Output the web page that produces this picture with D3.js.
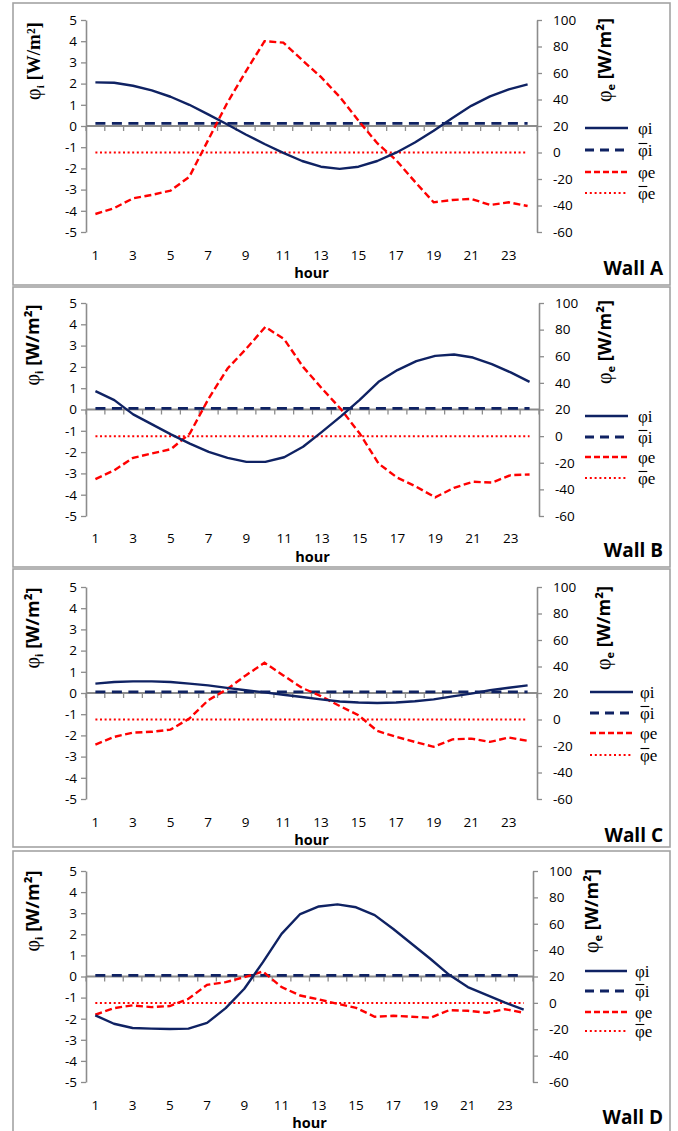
<!DOCTYPE html>
<html>
<head>
<meta charset="utf-8">
<script src="https://cdn.jsdelivr.net/npm/d3@7"></script>
<style>
  html, body { margin: 0; padding: 0; background: #fff; }
  svg { display: block; }
  .tick text { font-family: "Open Sans", sans-serif; font-size: 13.5px; fill: #000; }
</style>
</head>
<body>
<svg id="chart" width="678" height="1131"></svg>
<script>
// Hourly heat flux through four walls: inner surface flux (left axis) and outer surface flux (right axis)
const hours = [1, 2, 3, 4, 5, 6, 7, 8, 9, 10, 11, 12, 13, 14, 15, 16, 17, 18, 19, 20, 21, 22, 23, 24];
const hourLabels = [1, 3, 5, 7, 9, 11, 13, 15, 17, 19, 21, 23];
const leftTicks = [-5, -4, -3, -2, -1, 0, 1, 2, 3, 4, 5];
const rightTicks = [-60, -40, -20, 0, 20, 40, 60, 80, 100];
const wallNames = ["Wall A", "Wall B", "Wall C", "Wall D"];

// φi, W/m² (left axis)
const wallA_phiI = [2.06, 2.04, 1.9, 1.68, 1.38, 1.0, 0.55, 0.08, -0.4, -0.85, -1.27, -1.65, -1.92, -2.02, -1.92, -1.65, -1.26, -0.78, -0.22, 0.38, 0.95, 1.4, 1.73, 1.96];
const wallB_phiI = [0.86, 0.44, -0.23, -0.7, -1.17, -1.6, -1.99, -2.27, -2.46, -2.46, -2.24, -1.75, -1.05, -0.32, 0.45, 1.3, 1.85, 2.27, 2.52, 2.58, 2.44, 2.13, 1.74, 1.3];
const wallC_phiI = [0.44, 0.52, 0.55, 0.55, 0.52, 0.44, 0.36, 0.24, 0.13, 0.03, -0.08, -0.19, -0.3, -0.4, -0.45, -0.47, -0.45, -0.39, -0.3, -0.16, -0.03, 0.13, 0.25, 0.36];
const wallD_phiI = [-1.84, -2.24, -2.44, -2.47, -2.49, -2.47, -2.2, -1.5, -0.58, 0.68, 2.02, 2.96, 3.32, 3.42, 3.28, 2.91, 2.25, 1.54, 0.83, 0.08, -0.5, -0.87, -1.24, -1.57];

// φe, W/m² (right axis)
const wallA_phiE = [-46.4, -42, -34.6, -32, -28.8, -18.3, 9.4, 37, 61, 84, 82.9, 69.8, 57, 42, 24, 7, -5.7, -22, -37.6, -35.8, -35, -39.6, -37.6, -40.4];
const wallB_phiE = [-32.3, -25.6, -16.3, -13, -9.8, 2, 28.3, 50.8, 65.8, 82, 72.8, 52, 35.8, 20.3, 2, -20.6, -31.3, -38, -46, -38.8, -34.3, -34.9, -29.3, -28.8];
const wallC_phiE = [-18.9, -13.1, -9.9, -9.3, -7.6, 0.7, 14.5, 22.8, 33.3, 42.8, 33.3, 23.8, 17.7, 10.2, 3.2, -8.6, -13.1, -16.9, -20.6, -15, -14.4, -16.9, -13.6, -16.1];
const wallD_phiE = [-9, -4, -1.9, -3.2, -2.4, 3.1, 13.7, 15.7, 19.5, 23.8, 12, 5.6, 2.6, -0.7, -3.8, -10.5, -9.8, -10.5, -11.3, -5.5, -6, -7.5, -4.8, -7.5];

// daily means
const meanPhiI = [0.12, 0.05, 0.05, 0.05];
const meanPhiE = [0, 0, 0, 0];

const phiISeries = [wallA_phiI, wallB_phiI, wallC_phiI, wallD_phiI];
const phiESeries = [wallA_phiE, wallB_phiE, wallC_phiE, wallD_phiE];

// frame geometry of each stacked panel
const layout = [
  { box: [13, 3, 670, 285], x0: 86, x1: 537, yTop: 20, yBot: 232, tickY: 255, hourY: 273, wallY: 275,
    leftLab: [33, 61], rightLab: [605, 60], serifTitle: true, leg: { a: 585, b: 628, t: 638, rows: [128, 150, 172, 193] } },
  { box: [13, 287, 670, 567], x0: 86, x1: 539, yTop: 303, yBot: 516, tickY: 538, hourY: 557, wallY: 557,
    leftLab: [33, 345], rightLab: [605, 342], serifTitle: false, leg: { a: 585, b: 628, t: 638, rows: [416, 437, 457, 478] } },
  { box: [13, 569, 670, 847], x0: 86, x1: 537, yTop: 587, yBot: 799, tickY: 822, hourY: 840, wallY: 842,
    leftLab: [33, 628], rightLab: [604, 628], serifTitle: false, leg: { a: 590, b: 633, t: 640, rows: [692, 713, 733, 755] } },
  { box: [13, 851, 670, 1140], x0: 86, x1: 533, yTop: 871, yBot: 1082, tickY: 1105, hourY: 1123, wallY: 1124,
    leftLab: [33, 911], rightLab: [592, 911], serifTitle: false, leg: { a: 585, b: 627, t: 635, rows: [971, 991, 1012, 1031] } }
];

const NAVY = "#0f2263";
const RED = "#ff0000";
const GRID = "#8c8c8c";

const svg = d3.select("#chart");

layout.forEach((L, k) => {
  const g = svg.append("g");
  const [bx0, by0, bx1, by1] = L.box;
  g.append("rect")
    .attr("x", bx0).attr("y", by0).attr("width", bx1 - bx0).attr("height", by1 - by0)
    .attr("fill", "#fff").attr("stroke", "#a3a3a3").attr("stroke-width", 1.6);

  const x = d3.scaleBand().domain(hours).range([L.x0, L.x1]);
  const cx = h => x(h) + x.bandwidth() / 2;
  const yL = d3.scaleLinear().domain([-5, 5]).range([L.yBot, L.yTop]);
  const yR = d3.scaleLinear().domain([-60, 100]).range([L.yBot, L.yTop]);

  // left axis
  const axL = g.append("g").attr("transform", `translate(${L.x0},0)`)
    .call(d3.axisLeft(yL).tickValues(leftTicks).tickSizeInner(5).tickSizeOuter(0).tickPadding(4).tickFormat(d => String(d)));
  // right axis
  const axR = g.append("g").attr("transform", `translate(${L.x1},0)`)
    .call(d3.axisRight(yR).tickValues(rightTicks).tickSizeInner(5).tickSizeOuter(0).tickPadding(11).tickFormat(d => String(d)));
  [axL, axR].forEach(a => {
    a.select(".domain").attr("stroke", GRID).attr("stroke-width", 1.6);
    a.selectAll(".tick line").attr("stroke", GRID).attr("stroke-width", 1.3);
  });

  // horizontal axis along zero with category boundary ticks
  const y0 = yL(0);
  g.append("line").attr("x1", L.x0).attr("x2", L.x1).attr("y1", y0).attr("y2", y0)
    .attr("stroke", GRID).attr("stroke-width", 1.8);
  const bounds = hours.map(h => x(h)).concat([L.x1]);
  g.selectAll(".xt").data(bounds).enter().append("line")
    .attr("x1", d => d).attr("x2", d => d).attr("y1", y0).attr("y2", y0 + 5)
    .attr("stroke", GRID).attr("stroke-width", 1.3);
  g.selectAll(".xl").data(hourLabels).enter().append("text")
    .attr("x", d => cx(d)).attr("y", L.tickY).attr("dy", "0.35em")
    .attr("text-anchor", "middle")
    .style("font-family", "'Open Sans', sans-serif").style("font-size", "13.5px")
    .text(d => d);
  g.append("text").attr("x", (L.x0 + L.x1) / 2).attr("y", L.hourY).attr("dy", "0.35em")
    .attr("text-anchor", "middle")
    .style("font-family", "'Open Sans', sans-serif").style("font-size", "14.5px").style("font-weight", "bold")
    .text("hour");

  // axis titles
  const titleFont = L.serifTitle ? "'Liberation Serif', serif" : "'Open Sans', sans-serif";
  const tL = g.append("text")
    .attr("transform", `translate(${L.leftLab[0]},${L.leftLab[1]}) rotate(-90)`)
    .attr("text-anchor", "middle").attr("dy", "0.35em")
    .style("font-family", titleFont).style("font-size", L.serifTitle ? "19px" : "18px").style("font-weight", "bold");
  tL.append("tspan").style("font-family", "'Liberation Serif', serif").style("font-weight", "normal").style("font-size", "20px").text("φ");
  tL.append("tspan").attr("dy", 4).style("font-size", "11px").text("i");
  tL.append("tspan").attr("dy", -4).text(" [W/m²]");

  const tR = g.append("text")
    .attr("transform", `translate(${L.rightLab[0]},${L.rightLab[1]}) rotate(-90)`)
    .attr("text-anchor", "middle").attr("dy", "0.35em")
    .style("font-family", "'Open Sans', sans-serif").style("font-size", "18px").style("font-weight", "bold");
  tR.append("tspan").style("font-family", "'Liberation Serif', serif").style("font-weight", "normal").style("font-size", "20px").text("φ");
  tR.append("tspan").attr("dy", 4).style("font-size", "11px").text("e");
  tR.append("tspan").attr("dy", -4).text(" [W/m²]");

  // series
  const lineL = d3.line().x((d, i) => cx(hours[i])).y(d => yL(d));
  const lineR = d3.line().x((d, i) => cx(hours[i])).y(d => yR(d));

  const meanI = hours.map(() => meanPhiI[k]);
  const meanE = hours.map(() => meanPhiE[k]);

  g.append("path").datum(meanE).attr("d", lineR)
    .attr("fill", "none").attr("stroke", RED).attr("stroke-width", 2).attr("stroke-dasharray", "2,2.6");
  g.append("path").datum(meanI).attr("d", lineL)
    .attr("fill", "none").attr("stroke", NAVY).attr("stroke-width", 2.8).attr("stroke-dasharray", "10,6.5");
  g.append("path").datum(phiESeries[k]).attr("d", lineR)
    .attr("fill", "none").attr("stroke", RED).attr("stroke-width", 2.4).attr("stroke-dasharray", "7,3.5");
  g.append("path").datum(phiISeries[k]).attr("d", lineL)
    .attr("fill", "none").attr("stroke", NAVY).attr("stroke-width", 2.4).attr("stroke-linejoin", "round");

  // legend
  const legItems = [
    { stroke: NAVY, w: 2.6, dash: null, base: "i", bar: false },
    { stroke: NAVY, w: 2.8, dash: "9,6", base: "i", bar: true },
    { stroke: RED, w: 2.6, dash: "6,3", base: "e", bar: false },
    { stroke: RED, w: 2.2, dash: "2,2.8", base: "e", bar: true }
  ];
  legItems.forEach((it, j) => {
    const ry = L.leg.rows[j];
    g.append("line").attr("x1", L.leg.a).attr("x2", L.leg.b).attr("y1", ry).attr("y2", ry)
      .attr("stroke", it.stroke).attr("stroke-width", it.w).attr("stroke-dasharray", it.dash);
    const t = g.append("text").attr("x", L.leg.t).attr("y", ry).attr("dy", "0.33em")
      .style("font-family", "'Liberation Serif', serif").style("font-size", "17px");
    const phi = t.append("tspan").text("φ");
    t.append("tspan").text(it.base);
    if (it.bar) {
      // bar over the φ marks a mean value
      const w = phi.node().getComputedTextLength();
      g.append("line").attr("x1", L.leg.t + 0.5).attr("x2", L.leg.t + w - 0.5)
        .attr("y1", ry - 6.5).attr("y2", ry - 6.5)
        .attr("stroke", "#000").attr("stroke-width", 1.1);
    }
  });

  g.append("text").attr("x", 663).attr("y", L.wallY).attr("text-anchor", "end")
    .style("font-family", "'Open Sans', sans-serif").style("font-size", "19px").style("font-weight", "bold")
    .text(wallNames[k]);
});
</script>
</body>
</html>
